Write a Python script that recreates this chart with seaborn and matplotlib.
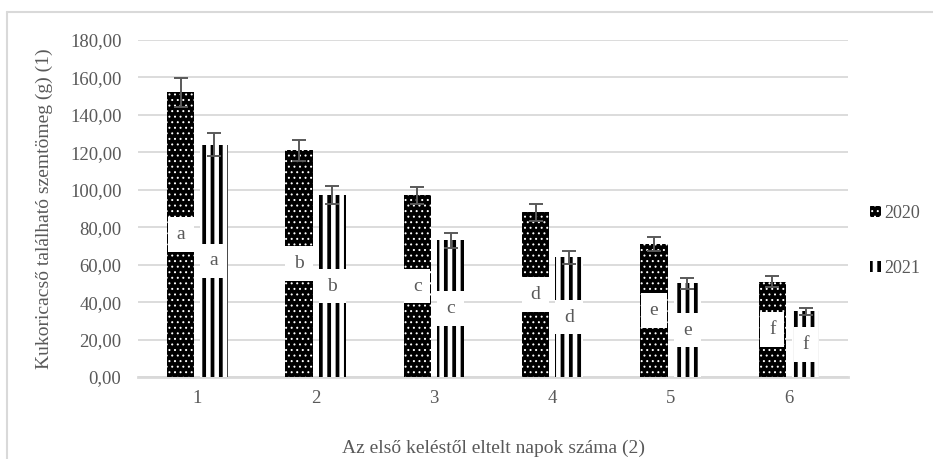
import matplotlib
matplotlib.use("Agg")
import matplotlib.pyplot as plt
from matplotlib.patches import Patch
from matplotlib.lines import Line2D
from matplotlib.ticker import FuncFormatter, MultipleLocator
import seaborn as sns
import pandas as pd

days = ["1", "2", "3", "4", "5", "6"]
years = ["2020", "2021"]
mass_2020 = [152, 121, 97, 88, 71, 51]
mass_2021 = [124, 97, 73, 64, 50, 35]
err_2020 = [7.6, 5.8, 4.6, 4.6, 3.9, 2.8]
err_2021 = [6.2, 4.8, 4.1, 3.5, 2.8, 2.0]
letters = ["a", "b", "c", "d", "e", "f"]

df = pd.DataFrame({
    "nap": days * 2,
    "ev": [years[0]] * len(days) + [years[1]] * len(days),
    "tomeg": mass_2020 + mass_2021,
})

sns.set_theme(style="white")
plt.rcParams["font.family"] = ["Liberation Serif", "DejaVu Serif"]

GRAY = "#595959"
GRID = "#d9d9d9"

fig = plt.figure(figsize=(9.33, 4.59), dpi=100)
ax = fig.add_axes([0.148, 0.1786, 0.761, 0.7343])

sns.barplot(data=df, x="nap", y="tomeg", hue="ev", order=days, hue_order=years,
            palette=["black", "white"], width=0.564, gap=0.18,
            errorbar=None, legend=False, ax=ax, zorder=3)

styles = {
    "2020": dict(facecolor="black", edgecolor="white", hatch="...", linewidth=0),
    "2021": dict(facecolor="white", edgecolor="black", hatch="||", linewidth=0),
}
hatch_lw = {"2020": 0.7, "2021": 2.7}


def style_patch(p, year):
    p.set(**styles[year])
    if hasattr(p, "set_hatch_linewidth"):
        p.set_hatch_linewidth(hatch_lw[year])


for year, cont, errs in zip(years, ax.containers, [err_2020, err_2021]):
    xs, tops = [], []
    for bar in cont:
        style_patch(bar, year)
        xs.append(bar.get_x() + bar.get_width() / 2)
        tops.append(bar.get_height())
    ax.errorbar(xs, tops, yerr=errs, fmt="none", ecolor=GRAY, elinewidth=1.4,
                capsize=5, capthick=1.4, zorder=5)
    for x, h, lt in zip(xs, tops, letters):
        ax.text(x, h / 2, lt, ha="center", va="center", fontsize=14, color=GRAY,
                zorder=6,
                bbox=dict(boxstyle="square,pad=0.45", facecolor="white",
                          edgecolor="none"))

ax.set_ylim(0, 180)
ax.set_xlim(-0.5, 5.5)
ax.yaxis.set_major_locator(MultipleLocator(20))
ax.yaxis.set_major_formatter(FuncFormatter(lambda v, p: f"{v:.2f}".replace(".", ",")))
ax.grid(axis="y", color=GRID, linewidth=1.3, zorder=0)
ax.set_axisbelow(True)
for side in ["top", "right", "left"]:
    ax.spines[side].set_visible(False)
ax.spines["bottom"].set_color(GRID)
ax.spines["bottom"].set_linewidth(2)
ax.tick_params(axis="both", length=0, labelsize=13.5, colors=GRAY, pad=9)
ax.tick_params(axis="y", pad=12)

ax.set_xlabel("Az első keléstől eltelt napok száma (2)", fontsize=14, color=GRAY,
              labelpad=24)
ax.set_ylabel("Kukoricacső található szemtömeg (g) (1)", fontsize=14, color=GRAY,
              labelpad=12)

leg = fig.legend(handles=[Patch(**styles[y], label=y) for y in years],
                 loc="center left", bbox_to_anchor=(0.925, 0.475),
                 frameon=False, fontsize=13, handlelength=0.6, handleheight=0.6,
                 handletextpad=0.15, labelspacing=2.1, borderaxespad=0)
for y, h in zip(years, leg.legend_handles):
    if hasattr(h, "set_hatch_linewidth"):
        h.set_hatch_linewidth(hatch_lw[y])
for t in leg.get_texts():
    t.set_color(GRAY)

# light frame around the chart
fig.add_artist(Line2D([0.0075, 0.0075], [0, 1 - 12 / 459], transform=fig.transFigure,
                      color=GRID, linewidth=1.5))
fig.add_artist(Line2D([0.0075, 1], [1 - 12 / 459, 1 - 12 / 459],
                      transform=fig.transFigure, color=GRID, linewidth=1.5))

fig.savefig("out.png", dpi=100)
